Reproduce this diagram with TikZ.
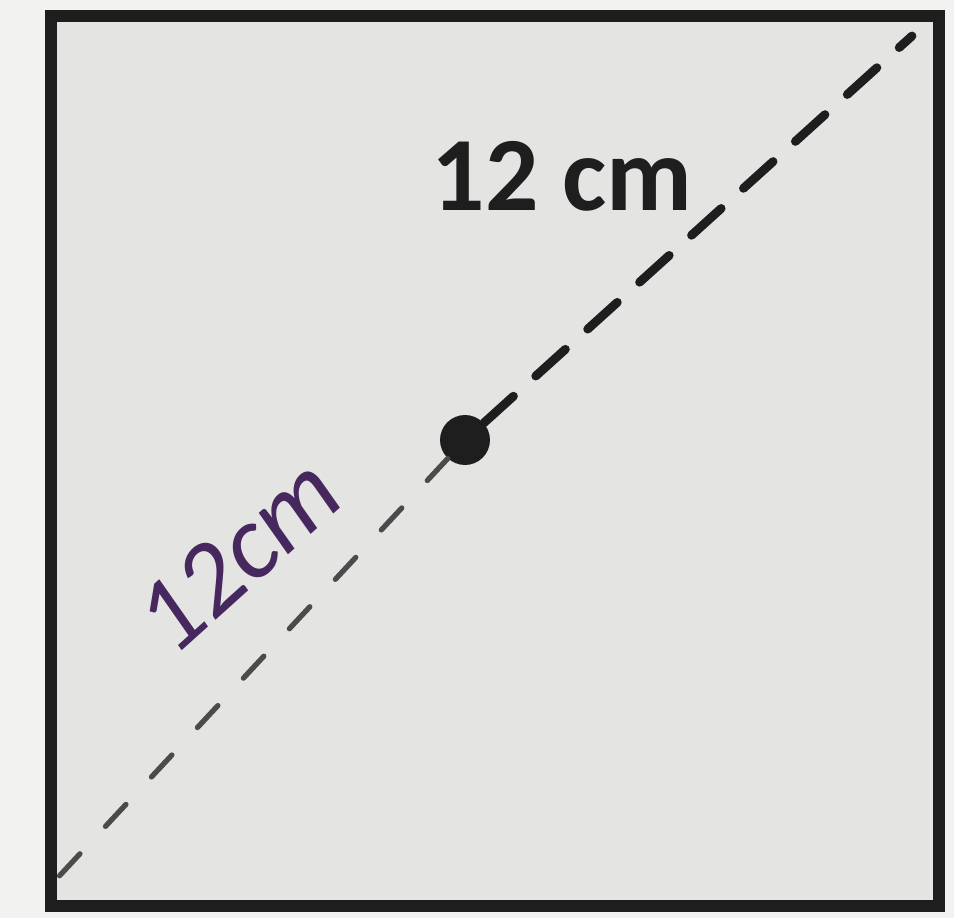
\documentclass[tikz,border=0pt]{standalone}
\usepackage{fontspec}
\setmainfont{Carlito}
\usetikzlibrary{positioning}

\definecolor{paper}{RGB}{242,242,240}
\definecolor{sheet}{RGB}{228,228,226}
\definecolor{ink}{RGB}{30,30,30}
\definecolor{pen}{RGB}{70,40,95}

\begin{document}
\begin{tikzpicture}[
    x=0.02cm, y=-0.02cm,
    frame/.style={draw=ink, line width=6.5pt, fill=sheet},
    halfdiag/.style={draw=ink, line width=5pt, line cap=round, dash pattern=on 0.8cm off 0.6cm},
    lowdiag/.style={draw=ink!80, line width=3pt, line cap=round, dash pattern=on 0.6cm off 0.75cm},
    centre/.style={circle, fill=ink, minimum size=1cm, inner sep=0pt},
    printed/.style={font=\bfseries\fontsize{60}{64}\selectfont, text=ink},
    written/.style={font=\itshape\fontsize{60}{64}\selectfont, text=pen, rotate=42, inner sep=0pt}
]
\useasboundingbox (0,0) rectangle (954,918);
\fill[paper] (0,0) rectangle (954,918);

% Square
\draw[frame] (51,16) rectangle (939,906);

% Corners of the diagonal
\coordinate (sw) at (50,886);
\coordinate (ne) at (912,36);

% Centre point
\node (mid) [centre] at (465,440) {};

% Diagonal halves
\draw [halfdiag] (mid) -- (ne);
\draw [lowdiag] (mid) -- (sw);

% Labels
\node (top) [printed] at (562,176) {12 cm};
\node (hand) [written] at (238,555) {12cm};

\end{tikzpicture}
\end{document}
